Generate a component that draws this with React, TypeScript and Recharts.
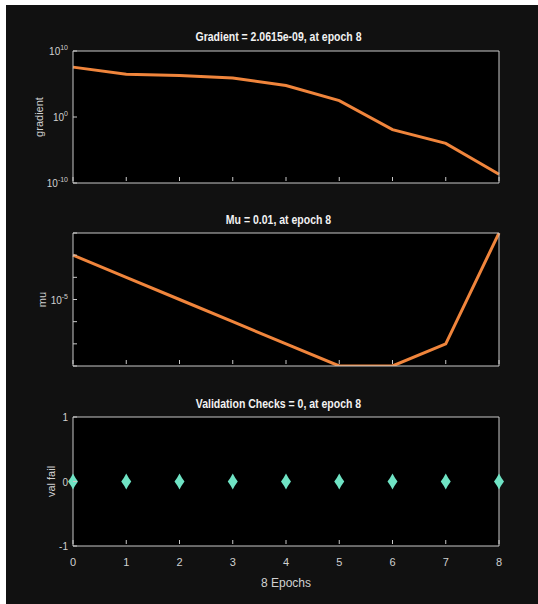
import { Line, LineChart, XAxis, YAxis, CartesianGrid } from "recharts";

const epochs = [0, 1, 2, 3, 4, 5, 6, 7, 8];
const gradientValues = [3.6e7, 3e6, 2e6, 8e5, 6e4, 3e2, 1.2e-2, 1e-4, 2.0615e-9];
const muValues = [1e-3, 1e-4, 1e-5, 1e-6, 1e-7, 1e-8, 1e-8, 1e-7, 1e-2];
const valFailValues = [0, 0, 0, 0, 0, 0, 0, 0, 0];

const gradientTicks = [1e-10, 1, 1e10];
const muTicks = [1e-8, 1e-7, 1e-6, 1e-5, 1e-4, 1e-3, 1e-2];
const muLabelledExp = [-5];
const valTicks = [-1, 0, 1];

const gradientData = epochs.map((e, i) => ({ epoch: e, gradient: gradientValues[i] }));
const muData = epochs.map((e, i) => ({ epoch: e, mu: muValues[i] }));
const valData = epochs.map((e, i) => ({ epoch: e, val: valFailValues[i] }));

const AXIS = "#c8c8c8";
const TEXT = "#d0d0d0";
const ORANGE = "#f0853c";
const FONT = "'Liberation Sans', Arial, sans-serif";

const W = 538;
const MARGIN_L = 33;
const MARGIN_R = 39;
const YW = 40;
const XH = 20;

function expOf(v: number) {
  return Math.round(Math.log10(v));
}

// left y tick: label outside, small tick inside the box
const LogTick = (labelled: number[] | null) => (props: any) => {
  const { x, y, payload } = props;
  const e = expOf(Number(payload.value));
  const show = labelled ? labelled.includes(e) : true;
  return (
    <g>
      <line x1={x + 4} x2={x + 8} y1={y} y2={y} stroke={AXIS} />
      {show && (
        <text x={x - 1} y={y + 4} textAnchor="end" fill={TEXT} fontSize={10} fontFamily={FONT}>
          <tspan>10</tspan>
          <tspan dy={-5} fontSize={7}>{e}</tspan>
        </text>
      )}
    </g>
  );
};

const LinTick = (props: any) => {
  const { x, y, payload } = props;
  return (
    <g>
      <line x1={x + 4} x2={x + 8} y1={y} y2={y} stroke={AXIS} />
      <text x={x - 1} y={y + 4} textAnchor="end" fill={TEXT} fontSize={10} fontFamily={FONT}>
        {payload.value}
      </text>
    </g>
  );
};

const BottomTick = (showLabel: boolean) => (props: any) => {
  const { x, y, payload } = props;
  return (
    <g>
      <line x1={x} x2={x} y1={y - 2} y2={y - 6} stroke={AXIS} />
      {showLabel && (
        <text x={x} y={y + 20} textAnchor="middle" fill={TEXT} fontSize={11} fontFamily={FONT}>
          {payload.value}
        </text>
      )}
    </g>
  );
};

const yTitle = (text: string, dx: number) => (p: any) => {
  const vb = p.viewBox;
  const cx = vb.x + dx;
  const cy = vb.y + vb.height / 2;
  return (
    <text x={cx} y={cy} transform={`rotate(-90 ${cx} ${cy})`} textAnchor="middle" dominantBaseline="central"
      fill={TEXT} fontSize={11} fontFamily={FONT}>
      {text}
    </text>
  );
};

const Diamond = (props: any) => {
  const { cx, cy } = props;
  if (cx == null || cy == null) return null;
  return (
    <path
      d={`M${cx},${cy - 8} Q${cx + 2},${cy - 4} ${cx + 5},${cy} Q${cx + 2},${cy + 4} ${cx},${cy + 8} Q${cx - 2},${cy + 4} ${cx - 5},${cy} Q${cx - 2},${cy - 4} ${cx},${cy - 8}Z`}
      fill="#6fe3c4"
    />
  );
};

function Title({ text, top }: { text: string; top: number }) {
  return (
    <div style={{
      position: "absolute", left: MARGIN_L + YW - 7, width: W - MARGIN_L - YW - MARGIN_R - 1, top: top - 8,
      textAlign: "center", color: "#f2f2f2", fontFamily: FONT, fontSize: 12.5, fontWeight: "bold", lineHeight: "16px",
      transform: "scaleX(0.84)",
    }}>{text}</div>
  );
}

export default function App() {
  return (
    <div style={{ position: "absolute", left: 0, top: 0, width: W, height: 604, background: "#fff" }}>
      <div style={{ position: "absolute", left: 6, top: 5, width: W - 6, height: 599, background: "#111" }} />

      <Title text="Gradient = 2.0615e-09, at epoch 8" top={37} />
      <div style={{ position: "absolute", left: 0, top: 0 }}>
        <LineChart width={W} height={220} data={gradientData} margin={{ top: 51, right: MARGIN_R, bottom: 17, left: MARGIN_L }}>
          <CartesianGrid fill="#000" horizontal={false} vertical={false} />
          <XAxis dataKey="epoch" type="number" domain={[0, 8]} ticks={epochs} interval={0} height={XH} stroke={AXIS}
            tickLine={false} tickSize={0} tickMargin={0} tick={BottomTick(false)} />
          <XAxis xAxisId="top" orientation="top" dataKey="epoch" type="number" domain={[0, 8]} ticks={epochs} interval={0}
            height={1} stroke={AXIS} mirror tick={false} tickSize={4} />
          <YAxis scale="log" domain={[1e-10, 1e10]} ticks={gradientTicks} interval={0} allowDataOverflow width={YW} stroke={AXIS}
            tickLine={false} tickSize={0} tickMargin={4} tick={LogTick(null)} label={{ content: yTitle("gradient", 6) }} />
          <YAxis yAxisId="r" orientation="right" scale="log" domain={[1e-10, 1e10]} ticks={gradientTicks} interval={0} allowDataOverflow
            width={1} stroke={AXIS} mirror tick={false} tickSize={4} />
          <Line dataKey="gradient" type="linear" stroke={ORANGE} strokeWidth={3} dot={false} isAnimationActive={false} />
        </LineChart>
      </div>

      <Title text="Mu = 0.01, at epoch 8" top={220} />
      <div style={{ position: "absolute", left: 0, top: 200 }}>
        <LineChart width={W} height={203} data={muData} margin={{ top: 33, right: MARGIN_R, bottom: 17, left: MARGIN_L }}>
          <CartesianGrid fill="#000" horizontal={false} vertical={false} />
          <XAxis dataKey="epoch" type="number" domain={[0, 8]} ticks={epochs} interval={0} height={XH} stroke={AXIS}
            tickLine={false} tickSize={0} tickMargin={0} tick={BottomTick(false)} />
          <XAxis xAxisId="top" orientation="top" dataKey="epoch" type="number" domain={[0, 8]} ticks={epochs} interval={0}
            height={1} stroke={AXIS} mirror tick={false} tickSize={4} />
          <YAxis scale="log" domain={[1e-8, 1e-2]} ticks={muTicks} interval={0} allowDataOverflow width={YW} stroke={AXIS}
            tickLine={false} tickSize={0} tickMargin={4} tick={LogTick(muLabelledExp)} label={{ content: yTitle("mu", 9) }} />
          <YAxis yAxisId="r" orientation="right" scale="log" domain={[1e-8, 1e-2]} ticks={muTicks} interval={0} allowDataOverflow
            width={1} stroke={AXIS} mirror tick={false} tickSize={4} />
          <Line dataKey="mu" type="linear" stroke={ORANGE} strokeWidth={3} dot={false} isAnimationActive={false} />
        </LineChart>
      </div>

      <Title text="Validation Checks = 0, at epoch 8" top={404} />
      <div style={{ position: "absolute", left: 0, top: 383 }}>
        <LineChart width={W} height={221} data={valData} margin={{ top: 34, right: MARGIN_R, bottom: 38, left: MARGIN_L }}>
          <CartesianGrid fill="#000" horizontal={false} vertical={false} />
          <XAxis dataKey="epoch" type="number" domain={[0, 8]} ticks={epochs} interval={0} height={XH} stroke={AXIS}
            tickLine={false} tickSize={0} tickMargin={0} tick={BottomTick(true)} />
          <XAxis xAxisId="top" orientation="top" dataKey="epoch" type="number" domain={[0, 8]} ticks={epochs} interval={0}
            height={1} stroke={AXIS} mirror tick={false} tickSize={4} />
          <YAxis domain={[-1, 1]} ticks={valTicks} interval={0} width={YW} stroke={AXIS}
            tickLine={false} tickSize={0} tickMargin={4} tick={LinTick} label={{ content: yTitle("val fail", 18) }} />
          <YAxis yAxisId="r" orientation="right" domain={[-1, 1]} ticks={valTicks} interval={0}
            width={1} stroke={AXIS} mirror tick={false} tickSize={4} />
          <Line dataKey="val" type="linear" stroke="none" dot={<Diamond />} isAnimationActive={false} />
        </LineChart>
      </div>
      <div style={{ position: "absolute", left: MARGIN_L + YW, width: W - MARGIN_L - YW - MARGIN_R, top: 575,
        textAlign: "center", color: TEXT, fontFamily: FONT, fontSize: 12, lineHeight: "16px" }}>8 Epochs</div>
    </div>
  );
}
